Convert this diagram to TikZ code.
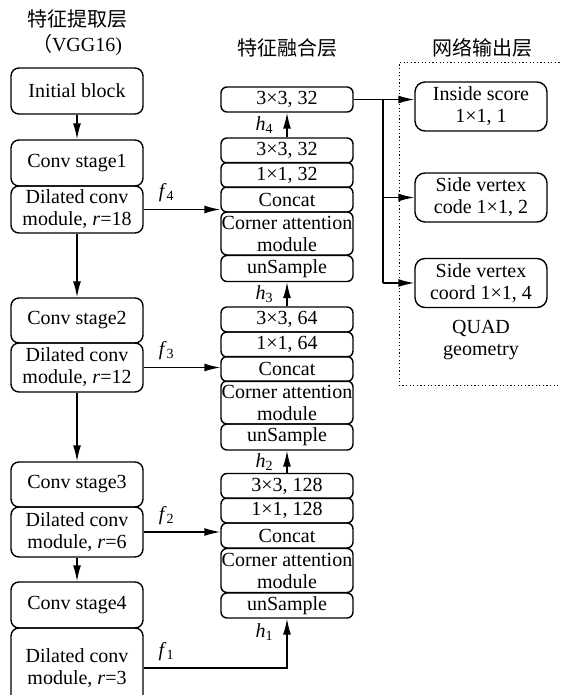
\documentclass[tikz,border=0pt]{standalone}
\usepackage{fontspec}
\setmainfont{Liberation Serif}
\newfontfamily\cjk{Noto Sans CJK SC}
\usetikzlibrary{arrows.meta}

\begin{document}
\begin{tikzpicture}[x=0.5pt, y=-0.5pt, line width=0.7pt, >={Latex[length=8pt,width=4pt]},
  every node/.style={font=\fontsize{10}{11}\selectfont},
  bigbox/.style={draw, rounded corners=4pt, minimum width=66pt, inner sep=0pt, align=center},
  smallbox/.style={draw, rounded corners=3pt, minimum width=66pt, minimum height=12.5pt, inner sep=0pt, align=center},
  outbox/.style={draw, rounded corners=5pt, minimum width=66pt, minimum height=24.5pt, inner sep=0pt, align=center}]
  \useasboundingbox (0,0) rectangle (561,695);
  % titles
  \node[align=center, font=\fontsize{10}{12.5}\selectfont] (ttl1) at (77,33) {{\cjk 特征提取层}\\{\cjk （}VGG16)};
  \node (ttl2) at (287,48) {\cjk 特征融合层};
  \node (ttl3) at (482,48) {\cjk 网络输出层};
  % VGG16 column
  \node[bigbox, minimum height=23pt] (init) at (77,91) {Initial block};
  \node[bigbox, minimum height=23pt] (cs1) at (77,163) {Conv stage1};
  \node[bigbox, minimum height=23.5pt] (dc1) at (77,209.5) {Dilated conv\\module, \textit{r}=18};
  \node[bigbox, minimum height=22.5pt] (cs2) at (77,320.5) {Conv stage2};
  \node[bigbox, minimum height=24.5pt] (dc2) at (77,367.5) {Dilated conv\\module, \textit{r}=12};
  \node[bigbox, minimum height=22.5pt] (cs3) at (77,484.5) {Conv stage3};
  \node[bigbox, minimum height=25pt] (dc3) at (77,532) {Dilated conv\\module, \textit{r}=6};
  \node[bigbox, minimum height=23pt] (cs4) at (77,605) {Conv stage4};
  \node[bigbox, minimum height=40pt] (dc4) at (77,668) {Dilated conv\\module, \textit{r}=3};
  % fusion column
  \node[smallbox] (m32c) at (287,99.5) {3×3, 32};
  \node[smallbox] (m32b) at (287,150.5) {3×3, 32};
  \node[smallbox] (m32a) at (287,175) {1×1, 32};
  \node[smallbox] (cat4) at (287,199.5) {Concat};
  \node[smallbox, minimum height=21.5pt] (ca4) at (287,233.5) {Corner attention\\module};
  \node[smallbox, minimum height=13pt] (up4) at (287,268.5) {unSample};
  \node[smallbox] (m64b) at (287,319.5) {3×3, 64};
  \node[smallbox] (m64a) at (287,344.5) {1×1, 64};
  \node[smallbox] (cat3) at (287,369) {Concat};
  \node[smallbox, minimum height=21.5pt] (ca3) at (287,402.5) {Corner attention\\module};
  \node[smallbox, minimum height=13pt] (up3) at (287,437) {unSample};
  \node[smallbox] (m128b) at (287,486) {3×3, 128};
  \node[smallbox] (m128a) at (287,510.5) {1×1, 128};
  \node[smallbox] (cat2) at (287,535.5) {Concat};
  \node[smallbox, minimum height=22pt] (ca2) at (287,570.5) {Corner attention\\module};
  \node[smallbox] (up2) at (287,605.5) {unSample};
  % output column
  \node[outbox] (out1) at (481,106.5) {Inside score\\1×1, 1};
  \node[outbox] (out2) at (481,197.5) {Side vertex\\code 1×1, 2};
  \node[outbox] (out3) at (481,283) {Side vertex\\coord 1×1, 4};
  \node[align=center] (quad) at (481,340) {QUAD\\geometry};
  \draw[line width=0.5pt, dash pattern=on 0.6pt off 1.2pt] (562,385) -- (399,385) -- (399,63) -- (562,63);
  % connectors
  \draw[->] (init) -- (cs1);
  \draw[->] (dc1) -- (cs2);
  \draw[->] (dc2) -- (cs3);
  \draw[->] (dc3) -- (cs4);
  \draw[->] (dc1.east) -- (dc1.east -| cat4.west) node[above, pos=0.3] {\textit{f}\textsubscript{4}};
  \draw[->] (dc2.east) -- (dc2.east -| cat3.west) node[above, pos=0.3] {\textit{f}\textsubscript{3}};
  \draw[->] (dc3.east) -- (dc3.east -| cat2.west) node[above, pos=0.3] {\textit{f}\textsubscript{2}};
  \draw[->] (dc4.east) -| (up2.south) node[above, pos=0.08] {\textit{f}\textsubscript{1}}
    node[left=3pt, pos=0.86] {\textit{h}\textsubscript{1}};
  \draw[->] (m128b) -- (up3) node[midway, left=3pt] {\textit{h}\textsubscript{2}};
  \draw[->] (m64b) -- (up4) node[midway, left=3pt] {\textit{h}\textsubscript{3}};
  \draw[->] (m32b) -- (m32c) node[midway, left=3pt] {\textit{h}\textsubscript{4}};
  \coordinate (br) at (383,99.5);
  \draw[->] (m32c.east) -- (m32c.east -| out1.west);
  \draw (br) -- (br |- out3.west);
  \draw[->] (br |- out2.west) -- (out2.west);
  \draw[->] (br |- out3.west) -- (out3.west);
\end{tikzpicture}
\end{document}
